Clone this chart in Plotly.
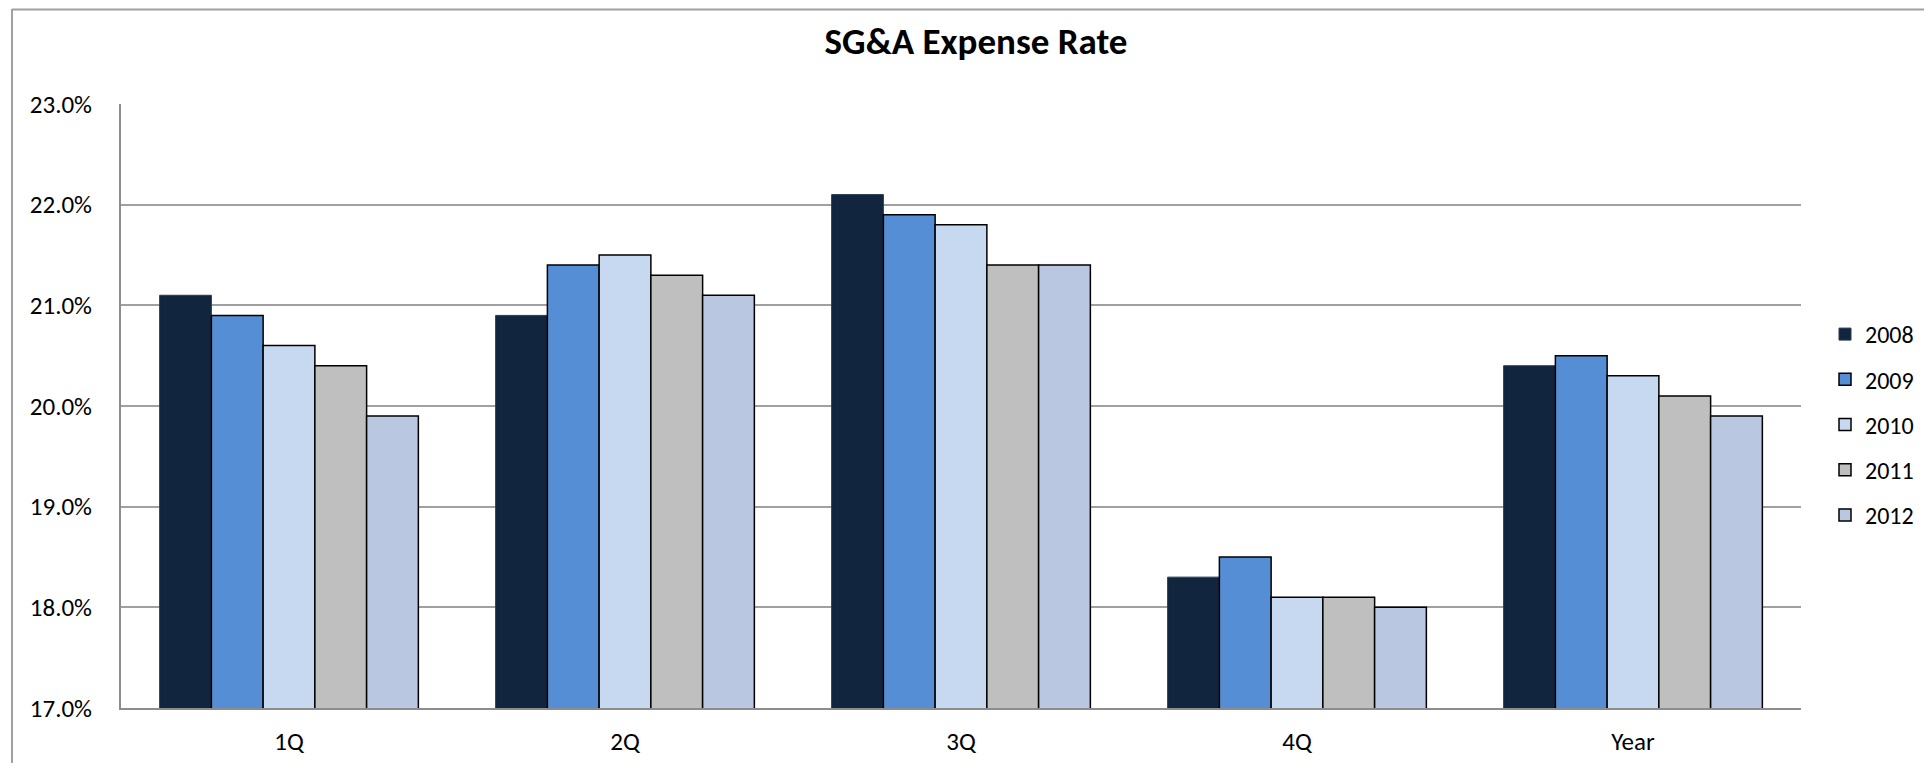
import plotly.graph_objects as go

categories = ["1Q", "2Q", "3Q", "4Q", "Year"]
years = ["2008", "2009", "2010", "2011", "2012"]
values_2008 = [21.1, 20.9, 22.1, 18.3, 20.4]
values_2009 = [20.9, 21.4, 21.9, 18.5, 20.5]
values_2010 = [20.6, 21.5, 21.8, 18.1, 20.3]
values_2011 = [20.4, 21.3, 21.4, 18.1, 20.1]
values_2012 = [19.9, 21.1, 21.4, 18.0, 19.9]
series = [values_2008, values_2009, values_2010, values_2011, values_2012]

colors = ["#12253F", "#558ED5", "#C6D9F1", "#BFBFBF", "#B9C7E0"]
line_colors = ["#2A3A55", "#000000", "#000000", "#000000", "#000000"]
line_widths = [1, 1.5, 1.5, 1.5, 1.5]

FONT = "Carlito, Lato, 'Liberation Sans', sans-serif"

OFF = 8  # default page body margin
W, H = 1932 - 2 * OFF, 771 - 2 * OFF
# plot area in page pixels
L, R, T, B = 121, 1801, 104, 708

fig = go.Figure()
for i, (yr, vals) in enumerate(zip(years, series)):
    fig.add_trace(go.Bar(
        x=categories, y=vals, name=yr, legendgroup=yr,
        marker=dict(color=colors[i], line=dict(color=line_colors[i], width=line_widths[i])),
    ))

def px_x(p):
    return (p - L) / (R - L)

def px_y(p):
    return (B - p) / (B - T)

fig.update_layout(
    width=W, height=H,
    margin=dict(l=L - OFF, r=W - (R - OFF), t=T - OFF, b=H - (B - OFF), autoexpand=False),
    paper_bgcolor="white", plot_bgcolor="white",
    barmode="group", bargap=0.23, bargroupgap=0,
    font=dict(family=FONT, size=25, color="#000000"),
    title=dict(text="<b>SG&A Expense Rate</b>", x=(976 - OFF) / W, xanchor="center",
               y=1 - (41 - OFF) / H, yanchor="middle",
               font=dict(size=37, family=FONT, color="#000000")),
    showlegend=True,
    legend=dict(x=px_x(1825), xanchor="left", y=px_y(333 - 21), yanchor="top",
                tracegroupgap=11, font=dict(size=24, family=FONT), bgcolor="rgba(0,0,0,0)"),
    xaxis=dict(showline=True, linecolor="#8C8C8C", linewidth=2, ticks="", showgrid=False,
               tickfont=dict(size=25), ticklabelstandoff=10, automargin=False),
    yaxis=dict(range=[17, 23], dtick=1, tick0=17, tickformat=".1f", ticksuffix="%",
               showgrid=True, gridcolor="#A0A0A0", gridwidth=2, showline=True,
               linecolor="#8C8C8C", linewidth=2, ticks="", zeroline=False,
               tickfont=dict(size=25), ticklabelstandoff=22, automargin=False),
    shapes=[
        dict(type="line", xref="paper", yref="paper", x0=px_x(12), x1=px_x(12),
             y0=px_y(9), y1=px_y(790), line=dict(color="#A0A0A0", width=2)),
        dict(type="line", xref="paper", yref="paper", x0=px_x(12), x1=px_x(1950),
             y0=px_y(9.5), y1=px_y(9.5), line=dict(color="#A0A0A0", width=2)),
    ],
)

fig.write_html("out.html")
